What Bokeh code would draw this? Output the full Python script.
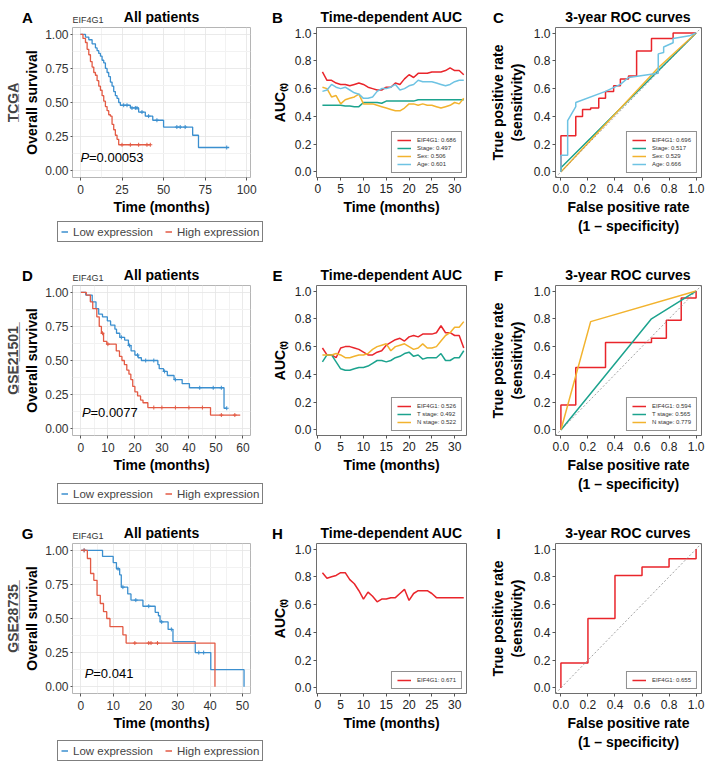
import numpy as np
from bokeh.plotting import figure
from bokeh.models import (Range1d, FixedTicker, NumeralTickFormatter, Label, Legend,
                          LegendItem, Slope, Title)
from bokeh.layouts import column, row
from bokeh.embed import file_html
from bokeh.resources import INLINE

FONT = "Liberation Sans"

# ------------------------------------------------------------------ data
row_names = ["TCGA", "GSE21501", "GSE28735"]
letters = ["A", "B", "C", "D", "E", "F", "G", "H", "I"]
km_title = "All patients"
auc_title = "Time-dependent AUC"
roc_title = "3-year ROC curves"
gene = "EIF4G1"
km_groups = ["Low expression", "High expression"]
p_values = ["=0.00053", "=0.0077", "=0.041"]

# Kaplan-Meier, TCGA
a_low_t = [0, 3, 5, 7, 9, 10, 11, 12, 13, 14, 15, 16, 17, 18, 19, 20, 21, 22, 23, 24, 30, 35, 39, 43.5, 50, 67.5, 71, 89.5]
a_low_s = [1.0, .98, .96, .93, .90, .88, .86, .84, .81, .79, .75, .72, .69, .65, .62, .58, .55, .53, .50, .48, .46, .43, .40, .37, .32, .26, .17, .17]
a_high_t = [0, 1.5, 3, 4, 5, 6, 7, 8, 9, 10, 11, 12, 13, 14, 15, 16, 17, 18, 19, 20, 21, 22, 23, 42]
a_high_s = [1.0, .97, .94, .89, .85, .80, .76, .72, .70, .66, .62, .59, .55, .51, .47, .44, .41, .40, .34, .30, .26, .23, .19, .19]
a_low_cens = [26, 28, 31, 33, 34, 37, 41, 46, 58, 60, 63, 88]
a_high_cens = [25, 30, 35, 40, 42]

# Kaplan-Meier, GSE21501
d_low_t = [0, 1.8, 4.2, 5.6, 6.6, 8, 9.8, 11, 12.6, 13.2, 14.4, 16.2, 17.6, 18.6, 20, 21.2, 22.4, 28.5, 29, 30.6, 32, 34.5, 37.5, 40.2, 53, 54]
d_low_s = [1.0, .98, .93, .88, .84, .82, .79, .76, .73, .70, .67, .65, .61, .57, .54, .52, .50, .47, .44, .42, .39, .36, .33, .30, .15, .15]
d_high_t = [0, 2, 3.5, 4.4, 5.9, 6.8, 7.6, 8.4, 9.6, 13.1, 14.3, 15.2, 16.1, 17, 17.8, 18.5, 19.2, 20, 21, 22.1, 23, 24.8, 48, 59]
d_high_s = [1.0, .98, .93, .88, .82, .75, .70, .64, .62, .57, .53, .50, .47, .43, .40, .36, .31, .27, .24, .21, .19, .155, .10, .10]
d_low_cens = [15, 18, 21, 24, 27, 31, 35, 44, 49, 52, 54]
d_high_cens = [8, 10, 27, 30, 35, 40, 45, 52, 57]

# Kaplan-Meier, GSE28735
g_low_t = [0, 6.7, 10, 11, 12, 12.5, 14.5, 15.5, 19.2, 23, 24, 24.5, 27, 28.5, 35.4, 40.2, 50.5]
g_low_s = [1.0, .955, .91, .865, .82, .73, .68, .635, .59, .545, .52, .475, .42, .33, .25, .125, 0.0]
g_high_t = [0, 2, 3, 4, 5, 6, 7, 8, 9, 13, 14, 41.5]
g_high_s = [1.0, .94, .83, .78, .67, .61, .55, .50, .44, .38, .32, 0.0]
g_low_cens = [1, 11.5, 13, 17, 21, 25, 28, 36.5, 38]
g_high_cens = [1, 16.7, 21, 21.7, 23.7]

# time-dependent AUC
auc_t = list(range(1, 33))
b_labels = ["EIF4G1: 0.686", "Stage: 0.497", "Sex: 0.506", "Age: 0.601"]
b_eif = [.72, .66, .66, .64, .63, .63, .62, .63, .64, .63, .61, .60, .59, .59, .61, .61, .64, .63, .67, .70, .68, .71, .71, .71, .72, .72, .72, .73, .75, .73, .73, .70]
b_stage = [.48, .48, .48, .48, .48, .475, .475, .47, .47, .50, .50, .50, .50, .495, .51, .51, .51, .51, .51, .51, .51, .52, .52, .52, .52, .52, .52, .52, .52, .52, .52, .52]
b_sex = [.61, .60, .54, .55, .49, .52, .53, .54, .56, .49, .49, .49, .48, .47, .46, .45, .44, .44, .46, .49, .49, .48, .49, .48, .48, .47, .46, .47, .48, .50, .49, .53]
b_age = [.58, .59, .63, .61, .60, .61, .59, .57, .56, .53, .53, .54, .58, .60, .60, .61, .63, .59, .60, .62, .63, .66, .65, .65, .65, .64, .63, .62, .63, .65, .66, .66]

e_labels = ["EIF4G1: 0.526", "T stage: 0.492", "N stage: 0.522"]
e_eif = [.59, .54, .54, .52, .59, .60, .60, .59, .58, .56, .54, .54, .56, .57, .61, .63, .65, .66, .64, .67, .68, .67, .69, .69, .69, .70, .75, .70, .70, .68, .68, .59]
e_tstage = [.49, .54, .54, .49, .44, .43, .43, .44, .45, .45, .46, .48, .50, .50, .49, .50, .52, .53, .55, .56, .53, .54, .51, .52, .52, .52, .55, .50, .50, .52, .52, .57]
e_nstage = [.54, .54, .54, .55, .54, .52, .52, .53, .54, .54, .55, .58, .60, .61, .62, .57, .60, .61, .62, .60, .58, .59, .62, .59, .59, .60, .64, .68, .70, .74, .74, .78]

h_labels = ["EIF4G1: 0.671"]
h_eif = [.83, .79, .80, .81, .83, .83, .78, .75, .70, .64, .69, .66, .62, .64, .64, .65, .65, .68, .71, .63, .68, .70, .70, .70, .68, .65, .65, .65, .65, .65, .65, .65]

# 3-year ROC curves
c_labels = ["EIF4G1: 0.696", "Stage: 0.517", "Sex: 0.529", "Age: 0.666"]
c_eif_fpr = [0, 0, .11, .11, .16, .16, .22, .22, .28, .28, .33, .33, .39, .39, .44, .44, .50, .50, .56, .56, .67, .67, .83, .83, 1.0]
c_eif_tpr = [0, .26, .26, .40, .40, .45, .45, .46, .46, .53, .53, .58, .58, .62, .62, .67, .67, .69, .69, .87, .87, .96, .96, 1.0, 1.0]
c_stage_fpr = [0, 0, 1.0]
c_stage_tpr = [0, .03, 1.0]
c_sex_fpr = [0, .72, 1.0]
c_sex_tpr = [0, .75, 1.0]
c_age_fpr = [0, 0, .05, .05, .11, .11, .33, .44, .50, .72, .72, .76, .76, .83, .83, .95, 1.0]
c_age_tpr = [0, .12, .12, .37, .47, .50, .58, .63, .68, .71, .85, .86, .90, .93, .96, .98, 1.0]

f_labels = ["EIF4G1: 0.594", "T stage: 0.565", "N stage: 0.779"]
f_eif_fpr = [0, 0, .11, .11, .33, .33, .67, .67, .78, .78, .89, .89, 1.0, 1.0]
f_eif_tpr = [0, .18, .18, .45, .45, .63, .63, .66, .66, .79, .79, .95, .95, 1.0]
f_tstage_fpr = [0, .67, 1.0]
f_tstage_tpr = [0, .80, 1.0]
f_nstage_fpr = [0, .22, 1.0]
f_nstage_tpr = [0, .78, 1.0]

i_labels = ["EIF4G1: 0.655"]
i_eif_fpr = [0, 0, .2, .2, .4, .4, .6, .6, .8, .8, 1.0, 1.0]
i_eif_tpr = [0, .18, .18, .5, .5, .81, .81, .87, .87, .93, .93, 1.0]

km_yticks = [0, .25, .5, .75, 1.0]
km_yminor = [.125, .375, .625, .875]
unit_ticks = [0, .2, .4, .6, .8, 1.0]
auc_xticks = [0, 5, 10, 15, 20, 25, 30]

# ------------------------------------------------------------------ style / layout
KM_BLUE = "#3B8FCF"
KM_RED = "#E35A44"
RED = "#E9252B"
TEAL = "#1CA38E"
GOLD = "#F2B32E"
SKY = "#6EC3E3"

TOTAL_W = 708
# (left border, frame width, right border) per column
COLS = [(72, 178, 18), (48, 150, 20), (68, 147, 7)]
W = [sum(c) for c in COLS]
HEAD_H = 24            # header strip with letters / titles
HEAD_BASE = 7.5        # baseline of letters / titles inside the header
GENE_BASE = 5.0        # baseline of the small gene label
TOP = 3
FRAME_H = 150
KM_BOTTOM = 44
STRIP_H = [37, 37, 29]  # legend strip under each KM panel
LEG_GAP = [1, 5, 4]


def no_align(p):
    try:
        p.frame_align = False
    except Exception:
        pass


def make_fig(w, h, xr, yr, left, right, bottom):
    p = figure(width=w, height=h, x_range=Range1d(*xr), y_range=Range1d(*yr),
               output_backend="svg", toolbar_location=None, tools="",
               min_border_left=left, min_border_right=right,
               min_border_top=TOP, min_border_bottom=bottom)
    p.background_fill_color = "white"
    p.border_fill_color = "white"
    return p


def blank_fig(w, h):
    p = figure(width=w, height=h, x_range=Range1d(0, w), y_range=Range1d(0, h),
               output_backend="svg", toolbar_location=None, tools="",
               x_axis_location=None, y_axis_location=None, min_border=0,
               min_border_left=0, min_border_right=0, min_border_top=0, min_border_bottom=0)
    p.grid.grid_line_color = None
    p.outline_line_color = None
    p.border_fill_color = "white"
    no_align(p)
    return p


def style_axis(ax, ticks, minor, fmt, label, lab_color, standoff, tick_out=3, lab_standoff=3):
    ax.ticker = FixedTicker(ticks=ticks, minor_ticks=minor)
    if fmt:
        ax.formatter = NumeralTickFormatter(format=fmt)
    ax.axis_label = label
    ax.axis_line_color = None
    ax.major_tick_in = 0
    ax.major_tick_out = tick_out
    ax.major_tick_line_color = "#555555"
    ax.minor_tick_line_color = None
    ax.major_label_standoff = lab_standoff
    ax.major_label_text_font = FONT
    ax.major_label_text_font_size = "12px"
    ax.major_label_text_color = lab_color
    ax.axis_label_text_font = FONT
    ax.axis_label_text_font_size = "14px"
    ax.axis_label_text_font_style = "bold"
    ax.axis_label_text_color = "black"
    ax.axis_label_standoff = standoff


def label(p, x, y, text, size, style="normal", align="left", xo=0, color="black"):
    p.add_layout(Label(x=x, y=y, text=text, x_offset=xo,
                       text_font=FONT, text_font_size=size, text_font_style=style,
                       text_align=align, text_baseline="alphabetic", text_color=color))


def header(i):
    h = blank_fig(TOTAL_W, HEAD_H)
    x0 = 0
    titles = [km_title, auc_title, roc_title]
    dx = [-45, -39, -56]
    for c in range(3):
        left, fw, right = COLS[c]
        fl = x0 + left
        label(h, fl + dx[c], HEAD_BASE, letters[3 * i + c], "15px", "bold", "center")
        label(h, fl + fw / 2, HEAD_BASE, titles[c], "14px", "bold", "center")
        if c == 0:
            label(h, fl, GENE_BASE, gene, "9px", color="#333333")
        x0 += W[c]
    return h


def at_times(times, surv, pts):
    idx = np.searchsorted(np.asarray(times), np.asarray(pts), side="right") - 1
    return list(np.asarray(surv)[idx])


def km_panel(i, xr, xt, xm, lt, ls, ht, hs, lc, hc, pxy):
    yr = (-0.05, 1.05)
    left, fw, right = COLS[0]
    p = make_fig(W[0], TOP + FRAME_H + KM_BOTTOM, xr, yr, left, right, KM_BOTTOM)
    no_align(p)
    p.outline_line_color = "#B5B5B5"
    style_axis(p.xaxis[0], xt, xm, None, "Time (months)", "#333333", 2)
    style_axis(p.yaxis[0], km_yticks, km_yminor, "0.00", "Overall survival", "#333333", 2,
               tick_out=2, lab_standoff=0)
    p.xgrid.ticker = FixedTicker(ticks=xt, minor_ticks=xm)
    p.ygrid.ticker = FixedTicker(ticks=km_yticks, minor_ticks=km_yminor)
    for g in (p.xgrid, p.ygrid):
        g.grid_line_color = "#E4E4E4"
        g.minor_grid_line_color = "#F2F2F2"
        g.grid_line_width = 0.8
    p.step(lt, ls, mode="after", line_color=KM_BLUE, line_width=1.3)
    p.step(ht, hs, mode="after", line_color=KM_RED, line_width=1.3)
    p.scatter(lc, at_times(lt, ls, lc), marker="cross", size=4, line_color=KM_BLUE, line_width=1)
    p.scatter(hc, at_times(ht, hs, hc), marker="cross", size=4, line_color=KM_RED, line_width=1)
    label(p, pxy[0], pxy[1], "P", "13px", "italic")
    label(p, pxy[0], pxy[1], p_values[i], "13px", xo=8.5)
    rl = Title(text="\u0332".join(row_names[i]) + "\u0332", align="center", standoff=2,
               text_font=FONT, text_font_size="14px", text_font_style="bold")
    p.add_layout(rl, "left")

    # legend strip below the panel
    s = blank_fig(W[0], STRIP_H[i])
    r_low = s.step(lt, ls, mode="after", line_color=KM_BLUE, line_width=1.5, visible=False)
    r_high = s.step(ht, hs, mode="after", line_color=KM_RED, line_width=1.5, visible=False)
    leg = Legend(items=[LegendItem(label=km_groups[0], renderers=[r_low]),
                        LegendItem(label=km_groups[1], renderers=[r_high])],
                 orientation="horizontal",
                 location=(left + fw / 2 - 104, STRIP_H[i] - LEG_GAP[i] - 20))
    leg.label_text_font = FONT
    leg.label_text_font_size = "11.5px"
    leg.label_height = 13
    leg.glyph_width = 7
    leg.glyph_height = 13
    leg.label_standoff = 5
    leg.spacing = 12
    leg.padding = 3
    leg.margin = 0
    leg.border_line_color = "black"
    leg.border_line_width = 1
    leg.inactive_fill_alpha = 0
    s.add_layout(leg)
    return column(p, s, spacing=0)


def small_legend(p, renderers, names):
    leg = Legend(items=[LegendItem(label=n, renderers=[r]) for r, n in zip(renderers, names)],
                 location="bottom_right", orientation="vertical")
    leg.label_text_font = FONT
    leg.label_text_font_size = "6px"
    leg.label_text_color = "#333333"
    leg.label_height = 6
    leg.glyph_height = 6
    leg.glyph_width = 14
    leg.label_standoff = 6
    leg.spacing = 2
    leg.padding = 5
    leg.margin = 4
    leg.border_line_color = "#222222"
    leg.border_line_width = 1
    p.add_layout(leg)


def base_panel(i, c, xr):
    yr = (-0.04, 1.04)
    left, fw, right = COLS[c]
    h = TOP + FRAME_H + KM_BOTTOM + STRIP_H[i]
    p = make_fig(W[c], h, xr, yr, left, right, h - TOP - FRAME_H)
    p.outline_line_color = "#6E6E6E"
    p.xgrid.grid_line_color = None
    p.ygrid.grid_line_color = None
    return p


def auc_panel(i, series, names):
    p = base_panel(i, 1, (-0.3, 32.6))
    style_axis(p.xaxis[0], auc_xticks, [], None, "Time (months)", "#222222", 3)
    style_axis(p.yaxis[0], unit_ticks, [], "0.0", "AUC\u208d\u209c\u208e", "#222222", 4,
               tick_out=3, lab_standoff=2)
    rs = [p.line(auc_t, ys, line_color=c, line_width=1.5) for ys, c in series]
    small_legend(p, rs, names)
    return p


def roc_panel(i, series, names):
    p = base_panel(i, 2, (-0.04, 1.04))
    style_axis(p.xaxis[0], unit_ticks, [], "0.0", "False positive rate\n(1 \u2013 specificity)", "#222222", 3)
    style_axis(p.yaxis[0], unit_ticks, [], "0.0", "True positive rate\n(sensitivity)", "#222222", 6,
               tick_out=3, lab_standoff=2)
    p.add_layout(Slope(gradient=1, y_intercept=0, line_color="#8A8A8A", line_width=0.8, line_dash="2 2"))
    rs = [p.line(fx, ty, line_color=c, line_width=1.5) for fx, ty, c in series]
    small_legend(p, rs, names)
    return p


kA = km_panel(0, (-4.8, 102.3), [0, 25, 50, 75, 100], [12.5, 37.5, 62.5, 87.5],
              a_low_t, a_low_s, a_high_t, a_high_s, a_low_cens, a_high_cens, (0, 0.10))
pB = auc_panel(0, [(b_eif, RED), (b_stage, TEAL), (b_sex, GOLD), (b_age, SKY)], b_labels)
pC = roc_panel(0, [(c_eif_fpr, c_eif_tpr, RED), (c_stage_fpr, c_stage_tpr, TEAL),
                   (c_sex_fpr, c_sex_tpr, GOLD), (c_age_fpr, c_age_tpr, SKY)], c_labels)

kD = km_panel(1, (-3.1, 62.8), [0, 10, 20, 30, 40, 50, 60], [5, 15, 25, 35, 45, 55],
              d_low_t, d_low_s, d_high_t, d_high_s, d_low_cens, d_high_cens, (0.4, 0.12))
pE = auc_panel(1, [(e_eif, RED), (e_tstage, TEAL), (e_nstage, GOLD)], e_labels)
pF = roc_panel(1, [(f_eif_fpr, f_eif_tpr, RED), (f_tstage_fpr, f_tstage_tpr, TEAL),
                   (f_nstage_fpr, f_nstage_tpr, GOLD)], f_labels)

kG = km_panel(2, (-2.6, 52.5), [0, 10, 20, 30, 40, 50], [5, 15, 25, 35, 45],
              g_low_t, g_low_s, g_high_t, g_high_s, g_low_cens, g_high_cens, (1.2, 0.10))
pH = auc_panel(2, [(h_eif, RED)], h_labels)
pI = roc_panel(2, [(i_eif_fpr, i_eif_tpr, RED)], i_labels)

layout = column(
    header(0), row(kA, pB, pC, spacing=0),
    header(1), row(kD, pE, pF, spacing=0),
    header(2), row(kG, pH, pI, spacing=0),
    spacing=0)

with open("out.html", "w") as f:
    f.write(file_html(layout, INLINE, title="EIF4G1 survival and ROC"))
